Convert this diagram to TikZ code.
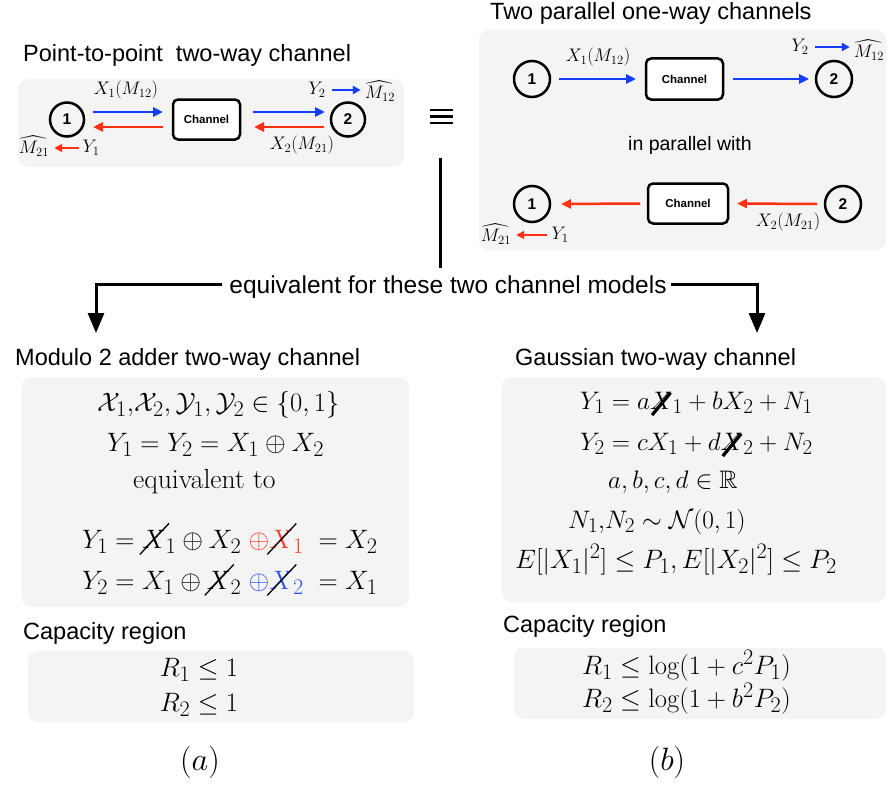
\documentclass[tikz,border=0pt]{standalone}
\usepackage{fontspec}
\usepackage{amsmath,amssymb}
\usetikzlibrary{arrows.meta,calc}
\newfontfamily\hv{Liberation Sans}
\definecolor{boxgray}{RGB}{244,244,244}
\definecolor{ablue}{RGB}{20,60,255}
\definecolor{ared}{RGB}{255,48,20}
\definecolor{mred}{RGB}{255,60,40}
\definecolor{mblue}{RGB}{50,80,255}
\newcommand\sx[1]{\tikz[baseline=(s.base)]{\node[inner sep=0pt,outer sep=0pt,draw=none,fill=none](s){$#1$};\draw[overlay,line width=1.2pt,black] ($(s.base west)+(-2pt,-6pt)$) -- ($(s.base east)+(3pt,23pt)$);}}
\newcommand\sxb[1]{\tikz[baseline=(s.base)]{\node[inner sep=0pt,outer sep=0pt,draw=none,fill=none](s){$#1$};\draw[overlay,line width=3.2pt,black] ($(s.base west)+(2pt,-6pt)$) -- ($(s.base east)+(-2pt,16pt)$);}}
\tikzset{
  ptA/.style={circle,draw,line width=2.5pt,minimum size=34pt,inner sep=0pt,outer sep=0pt,font=\hv\bfseries\fontsize{15.5}{15.5}\selectfont},
  ptB/.style={ptA,minimum size=36pt},
  chbox/.style={draw,line width=2.5pt,rounded corners=5pt,fill=white,minimum width=67pt,minimum height=40pt,inner sep=0pt,outer sep=0pt,font=\hv\bfseries\fontsize{11.5}{11.5}\selectfont},
  gbox/.style={fill=boxgray,rounded corners=10pt},
  barrow/.style={draw=ablue,line width=2.5pt,-{Triangle[length=10pt,width=9pt]}},
  rarrow/.style={draw=ared,line width=2.5pt,-{Triangle[length=10pt,width=9pt]}},
  barrowS/.style={draw=ablue,line width=2.5pt,-{Triangle[length=8pt,width=8pt]}},
  rarrowS/.style={draw=ared,line width=2.5pt,-{Triangle[length=8pt,width=8pt]}},
  lab/.style={inner sep=0pt,font=\fontsize{17.28}{18}\selectfont,scale=1.05,transform shape},
  head/.style={anchor=base west,inner sep=0pt,font=\hv\fontsize{23.5}{23.5}\selectfont},
  mathl/.style={anchor=base west,inner sep=0pt,font=\fontsize{24.88}{30}\selectfont,scale=1.07,transform shape},
  capl/.style={anchor=base,inner sep=0pt,font=\fontsize{24.88}{30}\selectfont,scale=1.3,transform shape},
  conn/.style={line width=3pt},
  bigtip/.style={-{Triangle[length=20pt,width=16pt]}},
}
\begin{document}
\begin{tikzpicture}[x=1pt,y=-1pt]
\useasboundingbox (0,0) rectangle (888,784);
% grey panels
\fill[gbox] (18,79) rectangle (404,167);
\fill[gbox] (479,30) rectangle (886,250);
\fill[gbox] (22,377) rectangle (409,607);
\fill[gbox] (502,377) rectangle (886,602);
\fill[gbox] (28,651) rectangle (414,722);
\fill[gbox] (514,648) rectangle (886,719);
% headings
\node[head] (h1) at (23,62) {Point-to-point~ two-way channel};
\node[head] (h2) at (490,20) {Two parallel one-way channels};
\node[head] (h3) at (15,365) {Modulo 2 adder two-way channel};
\node[head] (h4) at (515,365) {Gaussian two-way channel};
\node[head] (h5) at (23,639) {Capacity region};
\node[head] (h6) at (503,632) {Capacity region};
% top-left two-way channel
\node[ptA] (a1) at (67,119.5) {1};
\node[chbox] (ach) at (206.5,119.5) {Channel};
\node[ptA] (a2) at (348,119.5) {2};
\draw[barrow] ([shift={(9pt,7.5pt)}]a1.east) -- ([shift={(-10pt,7.5pt)}]ach.west);
\draw[rarrow] ([shift={(-10pt,-7.5pt)}]ach.west) -- ([shift={(9pt,-7.5pt)}]a1.east);
\draw[barrow] ([shift={(13pt,7.5pt)}]ach.east) -- ([shift={(-6pt,7.5pt)}]a2.west);
\draw[rarrow] ([shift={(-7pt,-7.5pt)}]a2.west) -- ([shift={(14pt,-7.5pt)}]ach.east);
\node[lab] (ax1) at (126,90) {$X_1(M_{12})$};
\node[lab] (ay2) at (317,90) {$Y_2$};
\node[lab] (am12) at (380,91) {$\widehat{M_{12}}$};
\draw[barrowS] ([xshift=6pt]ay2.east) -- ([xshift=-4pt]ay2.east -| am12.west);
\node[lab] (am21) at (34,146) {$\widehat{M_{21}}$};
\node[lab] (ay1) at (91,148) {$Y_1$};
\draw[rarrowS] ([xshift=-3pt]ay1.west) -- ([xshift=5pt]ay1.west -| am21.east);
\node[lab] (ax2) at (302,145) {$X_2(M_{21})$};
% equivalence sign
\foreach \yy in {110,116.5,123} \draw[line width=2.2pt] (430,\yy) -- (453,\yy);
\coordinate (eqbot) at (440,158);
% top-right parallel channels
\node[ptB] (b1) at (532,79) {1};
\node[chbox,minimum width=77pt,minimum height=41pt] (bch) at (684.5,79) {Channel};
\node[ptB] (b2) at (834,79) {2};
\draw[barrow] ([xshift=9pt]b1.east) -- ([xshift=-10pt]bch.west);
\draw[barrow] ([xshift=10pt]bch.east) -- ([xshift=-7pt]b2.west);
\node[lab] (bx1) at (598,57) {$X_1(M_{12})$};
\node[lab] (by2) at (800,47) {$Y_2$};
\node[lab] (bm12) at (869,50) {$\widehat{M_{12}}$};
\draw[barrowS] ([xshift=6pt]by2.east) -- ([xshift=-4pt]by2.east -| bm12.west);
\node[font=\hv\fontsize{19.5}{19.5}\selectfont,inner sep=0pt] (par) at (690,145) {in parallel with};
\node[ptB] (c1) at (532,204) {1};
\node[chbox,minimum width=80pt,minimum height=40pt] (cch) at (688,203.5) {Channel};
\node[ptB] (c2) at (843,204) {2};
\draw[rarrow] ([xshift=-8pt]cch.west) -- ([xshift=11pt]c1.east);
\draw[rarrow] ([xshift=-8pt]c2.west) -- ([xshift=9pt]cch.east);
\node[lab] (cx2) at (788,222) {$X_2(M_{21})$};
\node[lab] (cm21) at (496,234) {$\widehat{M_{21}}$};
\node[lab] (cy1) at (560,235) {$Y_1$};
\draw[rarrowS] ([xshift=-4pt]cy1.west) -- ([xshift=5pt]cy1.west -| cm21.east);
% equivalence connectors
\node[anchor=base,inner sep=0pt,font=\hv\fontsize{24.5}{24.5}\selectfont] (eqt) at (448,293) {equivalent for these two channel models};
\coordinate (tipA) at (96,333);
\coordinate (tipB) at (757,333);
\draw[conn] (eqbot) -- ($(eqt.north -| eqbot)+(0,-7)$);
\draw[conn,bigtip] ($(eqt.west)+(-7,-2)$) -| (tipA);
\draw[conn,bigtip] ($(eqt.east)+(4,-2)$) -| (tipB);
% modulo 2 adder
\node[mathl] (m1) at (97,411) {$\mathcal{X}_1{,}\mathcal{X}_2,\mathcal{Y}_1,\mathcal{Y}_2\in\{0,1\}$};
\node[mathl] (m2) at (107,451) {$Y_1=Y_2=X_1\oplus X_2$};
\node[mathl,scale=1.11/1.07] (m3) at (133,488) {equivalent to};
\node[mathl] (m4) at (82,548) {$Y_1=\sx{X}_1\oplus X_2\;{\color{mred}\oplus\sx{X}_1}\;=X_2$};
\node[mathl] (m5) at (82,589) {$Y_2=X_1\oplus\sx{X}_2\;{\color{mblue}\oplus\sx{X}_2}\;=X_1$};
% gaussian
\node[mathl,scale=0.95] (g1) at (580,409) {$Y_1=a\sxb{X}_1+bX_2+N_1$};
\node[mathl,scale=0.95] (g2) at (580,450) {$Y_2=cX_1+d\sxb{X}_2+N_2$};
\node[mathl,scale=0.95] (g3) at (608,488) {$a,b,c,d\in\mathbb{R}$};
\node[mathl,scale=0.95] (g4) at (568,528) {$N_1{,}N_2\sim\mathcal{N}(0,1)$};
\node[mathl] (g5) at (515,568) {$E[|X_1|^2]\le P_1,E[|X_2|^2]\le P_2$};
% capacity regions
\node[mathl,anchor=base] (r1) at (199,676) {$R_1\le 1$};
\node[mathl,anchor=base] (r2) at (199,711) {$R_2\le 1$};
\node[mathl] (r3) at (582,674) {$R_1\le\log(1+c^2P_1)$};
\node[mathl] (r4) at (582,707) {$R_2\le\log(1+b^2P_2)$};
\node[capl] (la) at (200,770) {$(a)$};
\node[capl] (lb) at (667,770) {$(b)$};
\end{tikzpicture}
\end{document}
